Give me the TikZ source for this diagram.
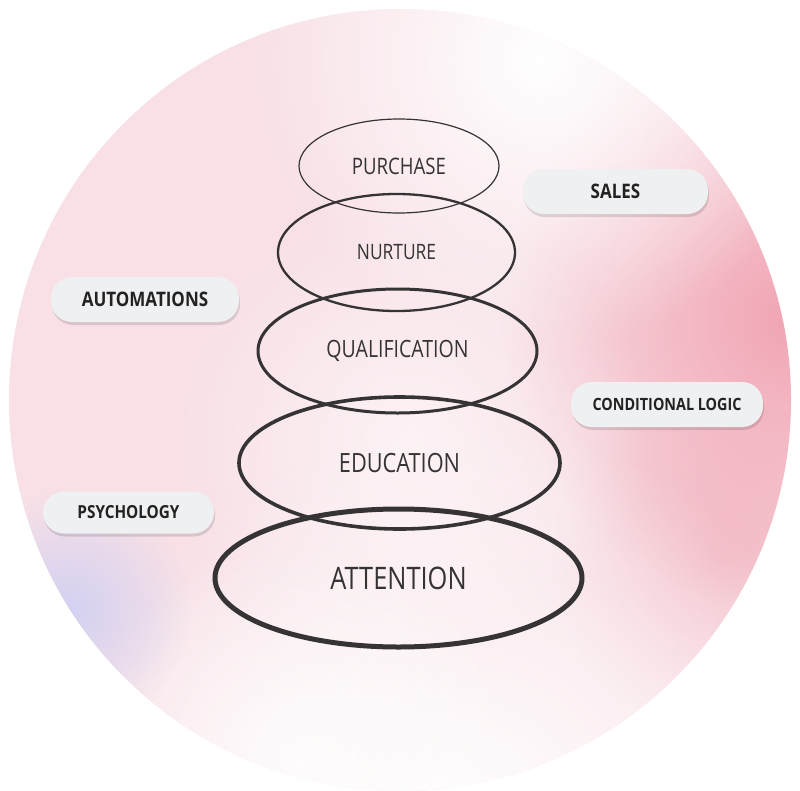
\documentclass[tikz,border=0pt]{standalone}
\usepackage{fontspec}
\setmainfont{Open Sans}[FakeStretch=0.82]
\newfontfamily\pillfont{Open Sans}[FakeStretch=0.85]
\usetikzlibrary{shapes.geometric,fadings,shadows}
\definecolor{bgpink}{HTML}{F8E0E6}
\definecolor{hotpink}{HTML}{F09AAA}
\definecolor{lavender}{HTML}{C6CCF6}
\definecolor{ink}{HTML}{353333}
\definecolor{pillfill}{HTML}{EFF0F2}
\definecolor{pilltext}{HTML}{222222}
\tikzfading[name=softblob, inner color=transparent!0, outer color=transparent!100]
\tikzset{
  blob/.style={path fading=softblob},
  stage/.style={draw=ink, ellipse, inner sep=0pt, text=ink},
  pill/.style={fill=pillfill, rounded corners=21pt, inner sep=0pt, text=pilltext,
    drop shadow={shadow xshift=1pt, shadow yshift=-3pt, opacity=0.12, fill=black}},
}
\begin{document}
\begin{tikzpicture}[x=1pt,y=-1pt]
\useasboundingbox (0,0) rectangle (800,790);
% background disc
\begin{scope}
  \clip (400,400) circle (391);
  \fill[bgpink] (0,0) rectangle (800,800);
  \fill[hotpink, blob, opacity=0.85] (790,320) circle (290);
  \fill[hotpink, blob, opacity=0.45] (720,560) circle (170);
  \fill[white, blob] (540,60) circle (290);
  \fill[white, blob] (460,820) circle (400);
  \fill[white, blob, opacity=0.8] (300,760) circle (220);
  \fill[white, blob, opacity=0.6] (410,440) circle (240);
  \fill[lavender, blob, opacity=0.75] (70,610) circle (120);
\end{scope}
% funnel stages
\node[stage, line width=5pt, minimum width=367, minimum height=138,
  font=\fontsize{31}{34}\selectfont] (attention) at (398.5,578) {ATTENTION};
\node[stage, line width=3.6pt, minimum width=321, minimum height=132,
  font=\fontsize{26.5}{29}\selectfont] (education) at (399.5,463) {EDUCATION};
\node[stage, line width=3pt, minimum width=279, minimum height=124,
  font=\fontsize{23.8}{26}\selectfont] (qualification) at (397.5,351) {QUALIFICATION};
\node[stage, line width=2.3pt, minimum width=237, minimum height=117,
  font=\fontsize{21.2}{24}\selectfont] (nurture) at (396.5,252.5) {NURTURE};
\node[stage, line width=1.2pt, minimum width=200, minimum height=94,
  font=\fontsize{22.7}{25}\selectfont] (purchase) at (399,166) {PURCHASE};
% side pills
\node[pill, minimum width=185, minimum height=45, font=\pillfont\bfseries\fontsize{20}{22}\selectfont]
  (sales) at (615.5,191.5) {SALES};
\node[pill, minimum width=188, minimum height=45, font=\pillfont\bfseries\fontsize{20}{22}\selectfont]
  (automations) at (145,299.5) {AUTOMATIONS};
\node[pill, minimum width=192, minimum height=45, font=\pillfont\bfseries\fontsize{16.9}{19}\selectfont]
  (conditional) at (667,404.5) {CONDITIONAL LOGIC};
\node[pill, minimum width=171, minimum height=42, font=\pillfont\bfseries\fontsize{18}{20}\selectfont]
  (psychology) at (128.5,512.5) {PSYCHOLOGY};
\end{tikzpicture}
\end{document}
